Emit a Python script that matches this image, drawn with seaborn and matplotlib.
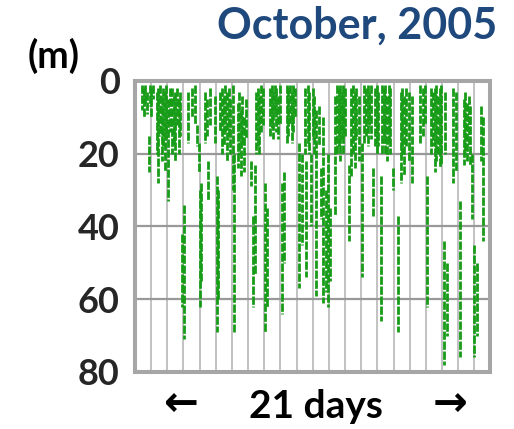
import numpy as np
import pandas as pd
import matplotlib
matplotlib.use("Agg")
import matplotlib.pyplot as plt
import seaborn as sns

# Dive streaks: day, shallowest and deepest depth (m)
dive_day = [0.45, 0.55, 0.65, 0.75, 0.85, 0.9, 1.0, 1.1,
            1.35, 1.45, 1.55, 1.65, 1.75, 1.85, 1.95, 2.05, 2.15,
            2.3, 2.4, 2.5, 2.6, 2.7, 2.8, 2.9, 3.05, 3.3, 3.5,
            3.7, 3.85, 3.95, 4.0, 4.1, 4.35, 4.45, 4.55, 4.65,
            4.95, 5.05, 5.15, 5.25, 5.4, 5.5, 5.6, 5.7, 5.8, 5.9,
            6.05, 6.15, 6.35, 6.45, 6.55, 6.65, 6.75, 6.85,
            7.2, 7.3, 7.4, 7.5, 7.6, 7.7, 7.8, 7.95, 8.05, 8.2,
            8.35, 8.45, 8.55, 8.65, 8.75, 8.85, 8.95, 9.1, 9.25,
            9.4, 9.5, 9.6, 9.7, 9.8, 9.9, 10.15, 10.35,
            10.5, 10.6, 10.7, 10.8, 10.9, 11.0, 11.1, 11.2, 11.4, 11.5,
            11.65, 11.8, 11.95, 12.05, 12.35,
            12.5, 12.6, 12.7, 12.8, 12.9, 13.0, 13.25,
            13.4, 13.5, 13.6, 13.7, 13.85, 14.05,
            14.2, 14.3, 14.4, 14.5, 14.6, 14.75, 14.85,
            14.95, 15.05, 15.2, 15.3, 15.4, 15.5, 15.6, 15.7, 15.8, 15.95,
            16.3, 16.45, 16.55, 16.65, 16.8, 16.95, 17.15,
            17.65, 17.8, 17.95, 18.1, 18.3, 18.45,
            18.55, 18.65, 18.75, 18.85, 18.95, 19.1, 19.2, 19.3,
            19.7, 19.85, 20.1, 20.35, 20.45, 20.55, 20.65, 20.75,
            20.85, 21.0, 21.15, 21.4, 21.55]
dive_top = [1, 2, 1, 3, 15, 1, 2, 1,
            3, 2, 1, 4, 2, 3, 1, 5, 2,
            2, 4, 3, 2, 5, 3, 42, 34, 3, 2,
            1, 12, 17, 30, 28, 3, 5, 22, 2,
            4, 26, 30, 3, 2, 4, 1, 3, 2, 5,
            1, 20, 6, 3, 8, 4, 10, 5,
            22, 37, 23, 3, 2, 4, 1, 2, 28, 35,
            2, 1, 3, 1, 2, 4, 1, 28, 25,
            1, 2, 1, 3, 1, 2, 17, 20,
            2, 22, 1, 3, 20, 2, 4, 8, 7, 24,
            10, 30, 20, 35, 4,
            1, 2, 1, 3, 1, 2, 23,
            2, 1, 3, 2, 4, 17,
            1, 2, 1, 3, 1, 24, 2,
            1, 3, 26, 1, 2, 1, 4, 1, 2, 24,
            37, 3, 2, 4, 2, 3, 4,
            1, 2, 1, 26, 2, 3,
            2, 1, 4, 2, 1, 44, 3, 50,
            2, 3, 33, 5, 3, 6, 4, 7,
            20, 45, 50, 7, 10]
dive_bottom = [8, 10, 6, 9, 25, 7, 10, 5,
               20, 28, 15, 22, 18, 25, 16, 33, 14,
               20, 18, 22, 12, 20, 15, 62, 71, 17, 10,
               12, 18, 25, 62, 55, 17, 15, 33, 12,
               17, 69, 60, 14, 20, 18, 14, 22, 16, 20,
               30, 69, 24, 20, 26, 18, 25, 16,
               29, 62, 53, 20, 18, 20, 14, 12, 69, 62,
               15, 13, 16, 10, 14, 16, 12, 64, 50,
               17, 15, 12, 17, 14, 10, 57, 45,
               20, 54, 18, 20, 40, 16, 20, 59, 18, 38,
               61, 58, 62, 55, 37,
               20, 18, 22, 16, 20, 15, 44,
               26, 20, 24, 16, 22, 54,
               17, 15, 18, 12, 16, 37, 18,
               20, 18, 66, 20, 17, 20, 22, 18, 20, 30,
               69, 28, 20, 26, 18, 22, 28,
               17, 15, 12, 62, 20, 18,
               25, 22, 20, 24, 23, 78, 20, 70,
               28, 25, 76, 23, 20, 22, 18, 23,
               38, 76, 70, 22, 44]

depth_ticks = [0, 20, 40, 60, 80]
depth_grid = [20, 40, 60]
day_grid = list(range(1, 22))

title = "October, 2005"
unit_label = "(m)"
span_label = "21 days"

# one row per end of each streak, so every dive is its own line
df = pd.DataFrame({
    "dive": np.repeat(np.arange(len(dive_day)), 2),
    "day": np.repeat(dive_day, 2),
    "depth": np.column_stack([dive_top, dive_bottom]).ravel(),
})

sns.set_style("white")
plt.rcParams["font.family"] = ["Lato", "DejaVu Sans"]

fig = plt.figure(figsize=(5.14, 4.29), dpi=100)
ax = fig.add_axes([0.2626, 0.1329, 0.6916, 0.6783])

for d in day_grid:
    ax.axvline(d, color="#b8b8b8", lw=1.2, zorder=0)
for d in depth_grid:
    ax.axhline(d, color="#999999", lw=1.6, zorder=0)

sns.lineplot(data=df, x="day", y="depth", units="dive", estimator=None,
             color="#179c17", lw=2.0, linestyle=(0, (3, 0.6)),
             legend=False, ax=ax)

ax.set_xlim(0, 22)
ax.set_ylim(80, 0)
ax.set_xticks([])
ax.set_yticks(depth_ticks)
ax.set_yticklabels([str(t) for t in depth_ticks], fontsize=26, fontweight="bold")
ax.tick_params(axis="y", length=0, pad=11)
ax.set_xlabel("")
ax.set_ylabel("")
for s in ax.spines.values():
    s.set_color("#a6a6a6")
    s.set_linewidth(2.9)

fig.text(497 / 514, 1 - 26 / 429, title, ha="right", va="center",
         fontsize=31, fontweight="bold", color="#1f497d")
fig.text(54 / 514, 1 - 56 / 429, unit_label, ha="center", va="center",
         fontsize=27, fontweight="bold", color="black")
fig.text(316 / 514, 1 - 407 / 429, span_label, ha="center", va="center",
         fontsize=28, fontweight="bold", color="black")
fig.text(181 / 514, 1 - 404 / 429, "\u2190", ha="center", va="center",
         fontsize=30, fontweight="bold", color="black", family="DejaVu Sans")
fig.text(450 / 514, 1 - 404 / 429, "\u2192", ha="center", va="center",
         fontsize=30, fontweight="bold", color="black", family="DejaVu Sans")

fig.savefig("out.png", dpi=100)
